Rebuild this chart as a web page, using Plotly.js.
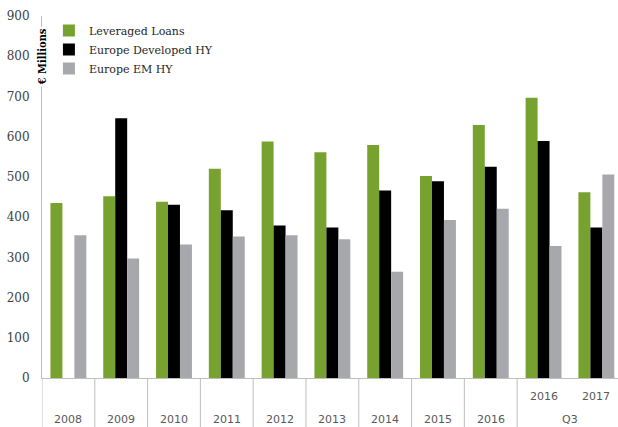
<!DOCTYPE html>
<html>
<head>
<meta charset="utf-8">
<script src="https://cdn.plot.ly/plotly-3.0.1.min.js"></script>
<style>html,body{margin:0;padding:0;background:#fff;}#chart{width:618px;height:427px;}</style>
</head>
<body>
<div id="chart"></div>
<script>
// categories (unique keys), and two rows of axis labels
const categories = ["2008","2009","2010","2011","2012","2013","2014","2015","2016","Q3 2016","Q3 2017"];
const innerLabels = ["","","","","","","","","","2016","2017"];
const outerLabels = ["2008","2009","2010","2011","2012","2013","2014","2015","2016"];
const outerGroupLabel = "Q3";

// series values (€ millions)
const leveragedLoans = [435, 452, 438, 520, 588, 561, 579, 502, 629, 697, 462];
const europeDevelopedHY = [0, 646, 431, 417, 379, 374, 466, 489, 525, 589, 374];
const europeEMHY = [355, 297, 332, 352, 355, 345, 264, 393, 421, 328, 506];

const seriesNames = ["Leveraged Loans", "Europe Developed HY", "Europe EM HY"];
const seriesColors = ["#78a22f", "#000000", "#a7a8ac"];
const seriesValues = [leveragedLoans, europeDevelopedHY, europeEMHY];

const traces = seriesValues.map((vals, i) => ({
  type: "bar",
  name: seriesNames[i],
  x: categories,
  y: vals,
  marker: {color: seriesColors[i]},
  hoverinfo: "x+y+name"
}));

const shapes = [];
for (let i = 0; i <= outerLabels.length; i++) {
  shapes.push({type: "line", xref: "x", yref: "paper", x0: i - 0.5, x1: i - 0.5, y0: 0, y1: -0.15,
    line: {color: "#bfbfbf", width: 1}});
}

const annotations = [];
outerLabels.forEach((t, i) => annotations.push({
  xref: "x", yref: "paper", x: i, y: -0.115, text: t, showarrow: false,
  yanchor: "middle", xanchor: "center", font: {family: "DejaVu Sans", size: 11, color: "#595959"}
}));
innerLabels.forEach((t, i) => { if (t) annotations.push({
  xref: "x", yref: "paper", x: i, y: -0.051, text: t, showarrow: false,
  yanchor: "middle", xanchor: "center", font: {family: "DejaVu Sans", size: 11, color: "#595959"}
}); });
annotations.push({
  xref: "x", yref: "paper", x: categories.length - 1.5, y: -0.115, text: outerGroupLabel, showarrow: false,
  yanchor: "middle", xanchor: "center", font: {family: "DejaVu Sans", size: 11, color: "#595959"}
});
// y-axis title sitting on the axis line
annotations.push({
  xref: "paper", yref: "paper", x: 0, y: 0.886, text: "<b>€ Millions</b>", showarrow: false,
  textangle: -90, xanchor: "center", yanchor: "middle", bgcolor: "#ffffff", borderpad: 1,
  font: {family: "DejaVu Serif Condensed, DejaVu Serif", size: 11, color: "#000000"}
});

const layout = {
  width: 618, height: 427,
  margin: {l: 42, r: 0, t: 16, b: 49},
  paper_bgcolor: "#ffffff", plot_bgcolor: "#ffffff",
  barmode: "group", bargap: 0.32, bargroupgap: 0,
  showlegend: true,
  legend: {x: 0.012, y: 1.0, xanchor: "left", yanchor: "top", bgcolor: "rgba(0,0,0,0)",
    font: {family: "DejaVu Serif", size: 11, color: "#262626"}, tracegroupgap: 0},
  xaxis: {type: "category", range: [-0.5, 10.41], showticklabels: false, ticks: "",
    showline: true, linecolor: "#bfbfbf", linewidth: 1, showgrid: false, zeroline: false},
  yaxis: {range: [0, 900], dtick: 100, showgrid: false, zeroline: false,
    showline: true, linecolor: "#bfbfbf", linewidth: 1, ticks: "", ticklabelstandoff: 9,
    tickfont: {family: "DejaVu Serif", size: 12, color: "#404040"}},
  shapes: shapes,
  annotations: annotations
};

Plotly.newPlot("chart", traces, layout, {displayModeBar: false, staticPlot: true});
</script>
</body>
</html>
